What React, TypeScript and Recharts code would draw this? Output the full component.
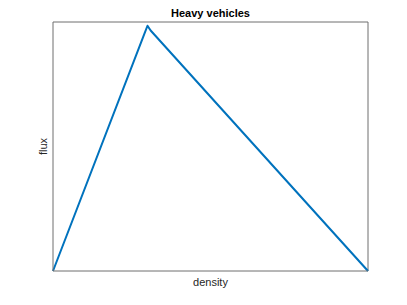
import React from "react";
import { LineChart, Line, XAxis, YAxis, ReferenceLine } from "recharts";

// fundamental diagram, normalised units
const density = [0, 0.29, 0.3, 0.31, 1];
const flux = [0, 0.952, 0.985, 0.966, 0];

const data = density.map((d, i) => ({ density: d, flux: flux[i] }));

const FONT = "'Liberation Sans', Arial, Helvetica, sans-serif";
const AXIS_COLOR = "#6e6e6e";
const TEXT_COLOR = "#262626";

// eslint-disable-next-line @typescript-eslint/no-explicit-any
const titleLabel = ({ viewBox }: any) => (
  <text
    x={viewBox.x + viewBox.width / 2}
    y={17}
    textAnchor="middle"
    fontFamily={FONT}
    fontSize={11}
    fontWeight="bold"
    fill="#000"
    stroke="none"
  >
    Heavy vehicles
  </text>
);

// eslint-disable-next-line @typescript-eslint/no-explicit-any
const xLabel = ({ viewBox }: any) => (
  <text
    x={viewBox.x + viewBox.width / 2}
    y={286}
    textAnchor="middle"
    fontFamily={FONT}
    fontSize={11}
    fill={TEXT_COLOR}
    stroke="none"
  >
    density
  </text>
);

// eslint-disable-next-line @typescript-eslint/no-explicit-any
const yLabel = ({ viewBox }: any) => {
  const cx = 47;
  const cy = viewBox.y + viewBox.height / 2;
  return (
    <text
      x={cx}
      y={cy}
      transform={`rotate(-90, ${cx}, ${cy})`}
      textAnchor="middle"
      fontFamily={FONT}
      fontSize={11}
      fill={TEXT_COLOR}
      stroke="none"
    >
      flux
    </text>
  );
};

export default function App() {
  return (
    <div style={{ position: "absolute", left: 0, top: 0, width: 407, height: 305, background: "#fff" }}>
      <LineChart width={407} height={305} data={data} margin={{ top: 22, right: 39, bottom: 0, left: 0 }}>
        <XAxis
          dataKey="density"
          type="number"
          domain={[0, 1]}
          tick={false}
          tickLine={false}
          height={34}
          stroke={AXIS_COLOR}
          label={xLabel}
        />
        <YAxis
          type="number"
          domain={[0, 1]}
          tick={false}
          tickLine={false}
          width={53}
          stroke={AXIS_COLOR}
          label={yLabel}
        />
        <ReferenceLine y={1} stroke={AXIS_COLOR} label={titleLabel} />
        <ReferenceLine x={1} stroke={AXIS_COLOR} />
        <Line
          dataKey="flux"
          type="linear"
          stroke="#0072BD"
          strokeWidth={2}
          strokeLinejoin="round"
          dot={false}
          activeDot={false}
          isAnimationActive={false}
        />
      </LineChart>
    </div>
  );
}
